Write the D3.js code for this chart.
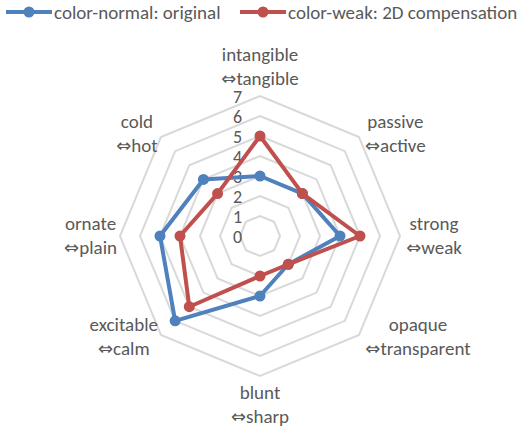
<!DOCTYPE html>
<html>
<head>
<meta charset="utf-8">
<script src="https://cdn.jsdelivr.net/npm/d3@7"></script>
<style>
  body { margin: 0; background: #fff; }
  text { font-family: Calibri, Carlito, Lato, sans-serif; fill: #595959; }
  .arrow { font-family: "DejaVu Sans", sans-serif; }
</style>
</head>
<body>
<div id="chart"></div>
<script>
// ------------------- DATA -------------------
const axisNames = ["intangible", "passive", "strong", "opaque", "blunt", "excitable", "ornate", "cold"];
const axisOpposites = ["tangible", "active", "weak", "transparent", "sharp", "calm", "plain", "hot"];
const seriesNames = ["color-normal: original", "color-weak: 2D compensation"];
const original = [3, 3, 4, 2, 3, 6, 5, 4];
const compensation = [5, 3, 5, 2, 2, 5, 4, 3];
const levels = [0, 1, 2, 3, 4, 5, 6, 7];
const colors = ["#4F81BD", "#C0504D"];

// ------------------- SETUP -------------------
const width = 518, height = 434;
const cx = 260, cy = 236;

let svg = d3.select("#chart")
            .append("svg")
            .attr("width", width)
            .attr("height", height);

let r = d3.scaleLinear().domain([0, 7]).range([0, 140]);
let angle = d3.scaleLinear().domain([0, axisNames.length]).range([0, 2 * Math.PI]);

function pt(i, v) {
  let a = angle(i);
  return [cx + r(v) * Math.sin(a), cy - r(v) * Math.cos(a)];
}

// grid rings (level 0 is the centre point)
let ringLine = d3.line().curve(d3.curveLinearClosed);
svg.append("g")
   .selectAll("path")
   .data(levels.filter(l => l > 0))
   .enter()
   .append("path")
   .attr("d", l => ringLine(axisNames.map((a, i) => pt(i, l))))
   .attr("fill", "none")
   .attr("stroke", "#d9d9d9")
   .attr("stroke-width", 2);

// level labels
svg.append("g")
   .selectAll("text")
   .data(levels)
   .enter()
   .append("text")
   .attr("x", 242)
   .attr("y", l => cy - r(l) + 1)
   .attr("dy", "0.35em")
   .attr("text-anchor", "end")
   .style("font-size", "18px")
   .text(l => l);

// series
let seriesData = [original, compensation];
let line = d3.line().curve(d3.curveLinearClosed);
seriesData.forEach((vals, s) => {
  let g = svg.append("g");
  g.append("path")
   .attr("d", line(vals.map((v, i) => pt(i, v))))
   .attr("fill", "none")
   .attr("stroke", colors[s])
   .attr("stroke-width", 4)
   .attr("stroke-linejoin", "round");
  g.selectAll("circle")
   .data(vals)
   .enter()
   .append("circle")
   .attr("cx", (v, i) => pt(i, v)[0])
   .attr("cy", (v, i) => pt(i, v)[1])
   .attr("r", 5.5)
   .attr("fill", colors[s]);
});

// axis labels: two centred lines per block, block placed beside the outer vertex
axisNames.forEach((name, i) => {
  let [vx, vy] = pt(i, 7);
  let g = svg.append("g");
  let t = g.append("text").attr("text-anchor", "middle").style("font-size", "19px");
  t.append("tspan").attr("x", 0).attr("y", 0).attr("dy", "0.35em").text(name);
  let t2 = t.append("tspan").attr("x", 0).attr("y", 24).attr("dy", "0.35em");
  t2.append("tspan").attr("class", "arrow").style("font-size", "18px").text("\u21D4");
  t2.append("tspan").text(axisOpposites[i]);
  let w = t.node().getBBox().width;
  let bx, by;
  let s = Math.sin(angle(i)), c = Math.cos(angle(i));
  if (Math.abs(s) < 0.01) {
    bx = vx;
    by = c > 0 ? vy - 42 : vy + 16;
  } else if (s > 0) {
    bx = vx + 6 + w / 2;
    by = vy - 13 - 4 * c;
  } else {
    bx = vx - 3 - w / 2;
    by = vy - 13 - 4 * c;
  }
  g.attr("transform", "translate(" + bx + "," + by + ")");
});

// legend
let legend = svg.append("g");
let lx = [6, 240];
seriesNames.forEach((name, s) => {
  let g = legend.append("g").attr("transform", "translate(" + lx[s] + ",12)");
  g.append("line").attr("x1", 0).attr("x2", 46).attr("stroke", colors[s]).attr("stroke-width", 4);
  g.append("circle").attr("cx", 23).attr("r", 5.5).attr("fill", colors[s]);
  g.append("text").attr("x", 48).attr("dy", "0.35em").style("font-size", "19px").text(name);
});
</script>
</body>
</html>
